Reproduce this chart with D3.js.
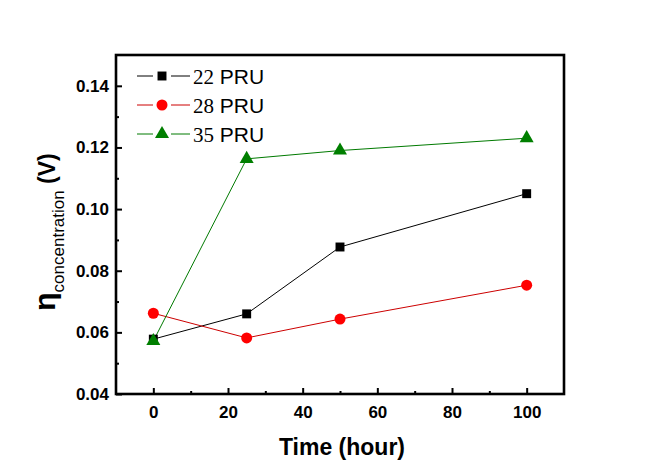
<!DOCTYPE html>
<html>
<head>
<meta charset="utf-8">
<script src="https://cdn.jsdelivr.net/npm/d3@7"></script>
<style>
  body { margin: 0; background: #fff; }
  svg { display: block; }
  .tick text { font-family: "Liberation Sans", Arial, sans-serif; font-weight: bold; font-size: 17px; fill: #000; }
</style>
</head>
<body>
<svg id="chart" width="655" height="472"></svg>
<script>
(function() {

  'use strict';

  // data
  var hours = [0, 25, 50, 100];
  var pru22 = [0.0578, 0.0660, 0.0877, 0.1050];
  var pru28 = [0.0662, 0.0582, 0.0643, 0.0753];
  var pru35 = [0.0572, 0.1163, 0.1190, 0.1230];
  var seriesNames = ['22', '28', '35'];
  var xTicks = [0, 20, 40, 60, 80, 100];
  var xMinor = [10, 30, 50, 70, 90];
  var yTicks = [0.04, 0.06, 0.08, 0.10, 0.12, 0.14];
  var yMinor = [0.05, 0.07, 0.09, 0.11, 0.13];

  var series = [
    { name: seriesNames[0], values: pru22, line: '#000000', fill: '#000000', shape: d3.symbolSquare, size: 80 },
    { name: seriesNames[1], values: pru28, line: '#cc0000', fill: '#ff0000', shape: d3.symbolCircle, size: 95 },
    { name: seriesNames[2], values: pru35, line: '#007a00', fill: '#007f00', shape: d3.symbolTriangle, size: 85 }
  ];

  var svg = d3.select('#chart');
  var left = 116, right = 564, top = 55, bottom = 394;

  var x = d3.scaleLinear().domain([-10, 110]).range([left, right]);
  var y = d3.scaleLinear().domain([0.04, 0.15]).range([bottom, top]);

  // minor ticks (inward)
  svg.append('g')
    .attr('transform', 'translate(0,' + bottom + ')')
    .call(d3.axisBottom(x).tickValues(xMinor).tickSize(-3).tickFormat(''))
    .call(function(g) { g.select('.domain').remove(); g.selectAll('line').attr('stroke-width', 2); });

  svg.append('g')
    .attr('transform', 'translate(' + left + ',0)')
    .call(d3.axisLeft(y).tickValues(yMinor).tickSize(-3).tickFormat(''))
    .call(function(g) { g.select('.domain').remove(); g.selectAll('line').attr('stroke-width', 2); });

  // major ticks
  svg.append('g')
    .attr('transform', 'translate(0,' + bottom + ')')
    .call(d3.axisBottom(x).tickValues(xTicks).tickSizeInner(-6).tickSizeOuter(0).tickPadding(12).tickFormat(d3.format('d')))
    .call(function(g) { g.select('.domain').remove(); g.selectAll('line').attr('stroke-width', 2); });

  svg.append('g')
    .attr('transform', 'translate(' + left + ',0)')
    .call(d3.axisLeft(y).tickValues(yTicks).tickSizeInner(-6).tickSizeOuter(0).tickPadding(7).tickFormat(d3.format('.2f')))
    .call(function(g) { g.select('.domain').remove(); g.selectAll('line').attr('stroke-width', 2); });

  // frame
  svg.append('rect')
    .attr('x', left).attr('y', top)
    .attr('width', right - left).attr('height', bottom - top)
    .attr('fill', 'none').attr('stroke', '#000').attr('stroke-width', 2.6);

  var line = d3.line()
    .x(function(d, i) { return x(hours[i]); })
    .y(function(d) { return y(d); });

  series.forEach(function(s) {
    svg.append('path')
      .attr('d', line(s.values))
      .attr('fill', 'none')
      .attr('stroke', s.line)
      .attr('stroke-width', 1);
  });

  series.forEach(function(s) {
    svg.selectAll(null)
      .data(s.values)
      .enter().append('path')
      .attr('transform', function(d, i) { return 'translate(' + x(hours[i]) + ',' + y(d) + ')'; })
      .attr('d', d3.symbol().type(s.shape).size(s.size))
      .attr('fill', s.fill);
  });

  // legend
  var legend = svg.append('g').attr('transform', 'translate(137,76)');
  series.forEach(function(s, i) {
    var row = legend.append('g').attr('transform', 'translate(0,' + (i * 29) + ')');
    row.append('line').attr('x1', 0).attr('x2', 16).attr('stroke', s.line).attr('stroke-width', 1);
    row.append('line').attr('x1', 34).attr('x2', 53).attr('stroke', s.line).attr('stroke-width', 1);
    row.append('path')
      .attr('transform', 'translate(25,0)')
      .attr('d', d3.symbol().type(s.shape).size(s.size))
      .attr('fill', s.fill);
    var t = row.append('text')
      .attr('x', 56).attr('y', 8)
      .attr('font-size', 21);
    t.append('tspan')
      .attr('font-family', '"Liberation Serif", "Times New Roman", serif')
      .text(s.name);
    t.append('tspan')
      .attr('font-family', '"Liberation Sans", Arial, sans-serif')
      .attr('font-size', 21)
      .text('\u00a0PRU');
  });

  // axis titles
  svg.append('text')
    .attr('x', (left + right) / 2 + 2)
    .attr('y', 455)
    .attr('text-anchor', 'middle')
    .attr('font-family', '"Liberation Sans", Arial, sans-serif')
    .attr('font-weight', 'bold')
    .attr('font-size', 23)
    .text('Time (hour)');

  var yt = svg.append('text')
    .attr('transform', 'translate(55,232) rotate(-90)')
    .attr('text-anchor', 'middle')
    .attr('font-family', '"Liberation Sans", Arial, sans-serif');
  yt.append('tspan').attr('font-weight', 'bold').attr('font-size', 30).text('\u03b7');
  yt.append('tspan').attr('font-size', 17).attr('dy', 9).text('concentration');
  yt.append('tspan').attr('font-weight', 'bold').attr('font-size', 23).attr('dy', -9).text(' (V)');

})();
</script>
</body>
</html>
